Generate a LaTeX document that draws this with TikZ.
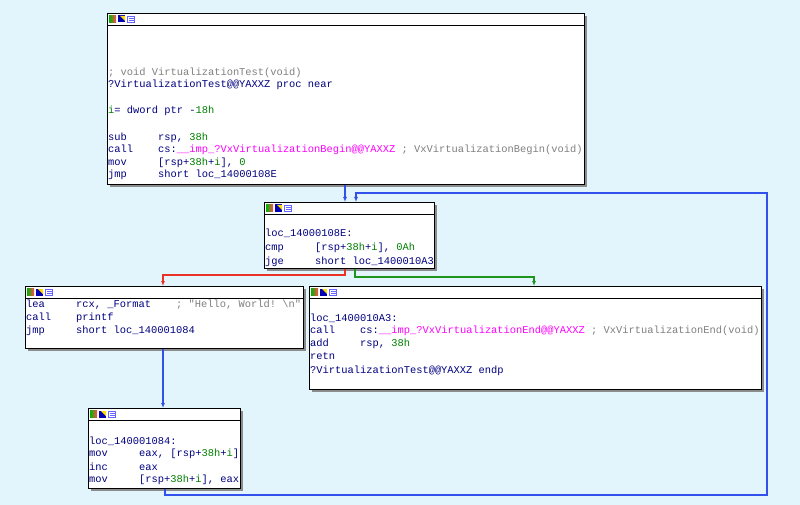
\documentclass[tikz,border=0pt]{standalone}
\usepackage{fontspec}
\usetikzlibrary{arrows.meta}
\setmonofont{Liberation Mono}
\definecolor{bg}{RGB}{226,244,252}
\definecolor{nav}{RGB}{0,0,128}
\definecolor{grn}{RGB}{0,128,0}
\definecolor{mag}{RGB}{255,0,255}
\definecolor{cmt}{RGB}{128,128,128}
\definecolor{edge}{RGB}{50,80,235}
\definecolor{redge}{RGB}{235,50,40}
\definecolor{gedge}{RGB}{30,150,30}
\newlength\cw \setlength\cw{6.25pt}
\newcommand\mn[2]{\makebox[8\cw][l]{#1}#2}
\newcommand\gr[1]{\textcolor{grn}{#1}}
\newcommand\mg[1]{\textcolor{mag}{#1}}
\newcommand\cm[1]{\textcolor{cmt}{#1}}
\begin{document}
\begin{tikzpicture}[x=1pt,y=-1pt,
  asm/.style={anchor=base west,inner sep=0pt,text=nav,font=\ttfamily\fontsize{10.4}{12}\selectfont},
  blk/.style={fill=white,draw=black,line width=1pt},
  shd/.style={fill=black!45},
  flow/.style={draw=edge,line width=1.3pt,-{Latex[length=5pt,width=4pt]}},
  rflow/.style={flow,draw=redge},
  gflow/.style={flow,draw=gedge}]
\useasboundingbox (0,0) rectangle (800,505);
\fill[bg] (0,0) rectangle (800,505);
\newcommand\blockat[5]{%
  \fill[shd] (#2+3,#3+3) rectangle (#4+3,#5+3);
  \node[blk,minimum width=#4-#2,minimum height=#5-#3,anchor=north west,inner sep=0pt] (#1) at (#2,#3) {};
  \draw[line width=0.8pt] (#2,#3+12) -- (#4,#3+12);
  \fill[left color=green!70!black,right color=red!70] (#2+2,#3+2.5) rectangle (#2+9,#3+9.5);
  \fill[blue!70!black] (#2+11,#3+2.5) rectangle (#2+18,#3+9.5);
  \fill[yellow!80!orange] (#2+13,#3+3) -- (#2+18,#3+3) -- (#2+18,#3+8) -- cycle;
  \draw[blue!60,fill=white] (#2+20.5,#3+3) rectangle (#2+27.5,#3+9);
  \draw[blue!60] (#2+21.5,#3+5) -- (#2+26.5,#3+5) (#2+21.5,#3+7) -- (#2+26.5,#3+7);}
\coordinate (loopA) at (165,495);
\coordinate (loopB) at (767,495);
\coordinate (loopC) at (767,193);
\coordinate (loopD) at (356,193);
\blockat{top}{107}{13}{584}{184}
\blockat{mid}{264}{202}{434}{268}
\blockat{lft}{25}{286}{303}{348}
\blockat{rgt}{309}{286}{761}{389}
\blockat{bot}{88}{408}{240}{488}
\draw[flow] (top.south -| 345,0) -- (mid.north -| 345,0);
\draw[flow] (bot.south -| loopA) -- (loopA) -- (loopB) -- (loopC) -- (loopD) -- (mid.north -| loopD);
\draw[rflow] (mid.south -| 345,0) -- (345,275) -- (163,275) -- (lft.north -| 163,0);
\draw[gflow] (mid.south -| 355,0) -- (355,277) -- (534,277) -- (rgt.north -| 534,0);
\draw[flow] (lft.south -| 163,0) -- (bot.north -| 163,0);
\node[asm] (t1) at (108,75.5) {\cm{; void VirtualizationTest(void)}};
\node[asm] (t2) at (108,87.5) {?VirtualizationTest@@YAXXZ proc near};
\node[asm] (t3) at (108,113.5) {\gr{i}= dword ptr -\gr{18h}};
\node[asm] (t4) at (108,140.5) {\mn{sub}{rsp, \gr{38h}}};
\node[asm] (t5) at (108,152.5) {\mn{call}{cs:\mg{\_\_imp\_?VxVirtualizationBegin@@YAXXZ} \cm{; VxVirtualizationBegin(void)}}};
\node[asm] (t6) at (108,165.5) {\mn{mov}{[rsp+\gr{38h}+\gr{i}], \gr{0}}};
\node[asm] (t7) at (108,177.5) {\mn{jmp}{short loc\_14000108E}};
\node[asm] (m1) at (265,236.5) {loc\_14000108E:};
\node[asm] (m2) at (265,250.5) {\mn{cmp}{[rsp+\gr{38h}+\gr{i}], \gr{0Ah}}};
\node[asm] (m3) at (265,264.5) {\mn{jge}{short loc\_1400010A3}};
\node[asm] (l1) at (26,307.5) {\mn{lea}{\makebox[16\cw][l]{rcx, \_Format}\cm{; "Hello, World! \textbackslash n"}}};
\node[asm] (l2) at (26,320.5) {\mn{call}{printf}};
\node[asm] (l3) at (26,333.5) {\mn{jmp}{short loc\_140001084}};
\node[asm] (r1) at (310,321.5) {loc\_1400010A3:};
\node[asm] (r2) at (310,333.5) {\mn{call}{cs:\mg{\_\_imp\_?VxVirtualizationEnd@@YAXXZ} \cm{; VxVirtualizationEnd(void)}}};
\node[asm] (r3) at (310,346.5) {\mn{add}{rsp, \gr{38h}}};
\node[asm] (r4) at (310,359.5) {retn};
\node[asm] (r5) at (310,373.5) {?VirtualizationTest@@YAXXZ endp};
\node[asm] (b1) at (89,444.5) {loc\_140001084:};
\node[asm] (b2) at (89,456.5) {\mn{mov}{eax, [rsp+\gr{38h}+\gr{i}]}};
\node[asm] (b3) at (89,470.5) {\mn{inc}{eax}};
\node[asm] (b4) at (89,482.5) {\mn{mov}{[rsp+\gr{38h}+\gr{i}], eax}};
\end{tikzpicture}
\end{document}
